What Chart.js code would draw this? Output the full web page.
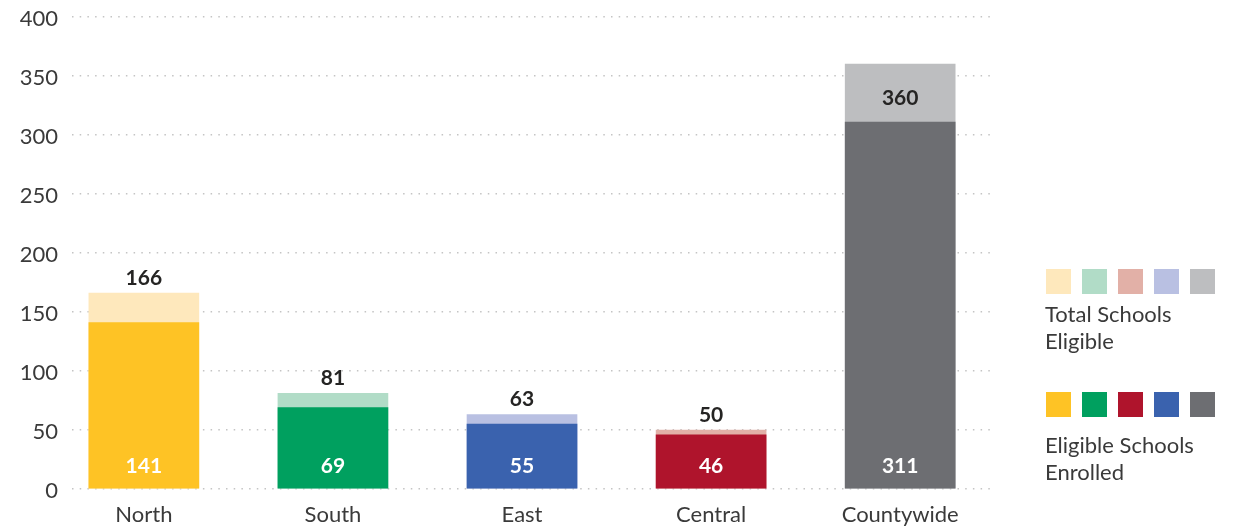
<!DOCTYPE html>
<html>
<head>
<meta charset="utf-8">
<script src="https://cdn.jsdelivr.net/npm/chart.js@4.4.1/dist/chart.umd.min.js"></script>
<style>
  html, body { margin: 0; padding: 0; background: #ffffff; }
  #wrap { position: absolute; left: 0; top: 0; width: 1237px; height: 526px; }
  .legend-row { position: absolute; left: 1046px; display: flex; gap: 11px; }
  .sw { width: 25px; height: 25px; }
  .legend-text { position: absolute; left: 1045px; font-family: Lato, sans-serif; font-size: 22px; line-height: 27px; color: #3a3a3a; }
</style>
</head>
<body>
<div id="wrap"><canvas id="c"></canvas></div>
<div class="legend-row" id="rowTotal" style="top:269px"></div>
<div class="legend-text" id="txtTotal" style="top:300px"></div>
<div class="legend-row" id="rowEnrolled" style="top:392px"></div>
<div class="legend-text" id="txtEnrolled" style="top:431px"></div>
<script>
const categories = ["North", "South", "East", "Central", "Countywide"];
const totalEligible = [166, 81, 63, 50, 360];
const enrolled = [141, 69, 55, 46, 311];
const yTicks = [0, 50, 100, 150, 200, 250, 300, 350, 400];
// bar colours, one per category
const barLightColors = ["#FEE8BC", "#B1DCC7", "#B9C0E2", "#E2B0A7", "#BDBEC0"];
const barDarkColors = ["#FEC325", "#00A05F", "#3A62AE", "#AF142C", "#6D6E72"];
// legend swatch order
const legendLightColors = ["#FEE8BC", "#B1DCC7", "#E2B0A7", "#B9C0E2", "#BDBEC0"];
const legendDarkColors = ["#FEC325", "#00A05F", "#AF142C", "#3A62AE", "#6D6E72"];
const legendLabels = ["Total Schools\nEligible", "Eligible Schools\nEnrolled"];

function fillRow(id, colors) {
  const row = document.getElementById(id);
  colors.forEach(c => { const d = document.createElement('div'); d.className = 'sw'; d.style.background = c; row.appendChild(d); });
}
fillRow('rowTotal', legendLightColors);
fillRow('rowEnrolled', legendDarkColors);
document.getElementById('txtTotal').innerHTML = legendLabels[0].replace('\n', '<br>');
document.getElementById('txtEnrolled').innerHTML = legendLabels[1].replace('\n', '<br>');

const labelPlugin = {
  id: 'barLabels',
  afterDatasetsDraw(chart) {
    const ctx = chart.ctx;
    const yScale = chart.scales.y;
    const area = chart.chartArea;
    const base = yScale.getPixelForValue(0);
    ctx.save();
    ctx.textAlign = 'center';
    ctx.textBaseline = 'middle';
    ctx.font = 'bold 21px Lato, sans-serif';
    chart.getDatasetMeta(0).data.forEach((bar, i) => {
      ctx.fillStyle = '#ffffff';
      ctx.fillText(String(enrolled[i]), bar.x, base - 23);
    });
    chart.getDatasetMeta(1).data.forEach((bar, i) => {
      ctx.fillStyle = '#252423';
      let y = bar.y - 15;
      if (bar.y < area.top + 60) y = bar.y + 34;
      ctx.fillText(String(totalEligible[i]), bar.x, y);
    });
    ctx.restore();
  }
};

new Chart(document.getElementById('c'), {
  type: 'bar',
  data: {
    datasets: [
      {
        label: 'Eligible Schools Enrolled',
        data: enrolled.map((v, i) => ({ x: i, y: v })),
        backgroundColor: barDarkColors,
        barThickness: 110,
        grouped: false,
        borderWidth: 0
      },
      {
        label: 'Total Schools Eligible',
        data: totalEligible.map((v, i) => ({ x: i, y: v })),
        backgroundColor: barLightColors,
        barThickness: 110,
        grouped: false,
        borderWidth: 0
      }
    ]
  },
  options: {
    responsive: true,
    maintainAspectRatio: false,
    animation: false,
    layout: { padding: { left: 0, right: 247, top: 17, bottom: 0 } },
    plugins: { legend: { display: false }, tooltip: { enabled: false } },
    scales: {
      x: {
        type: 'linear',
        offset: false,
        min: -0.38,
        max: 4.475,
        afterBuildTicks: (s) => { s.ticks = categories.map((_, i) => ({ value: i })); },
        afterFit: (s) => { s.height = 37; s.paddingLeft = 0; s.paddingRight = 0; },
        grid: { display: false, drawTicks: false },
        border: { display: false },
        ticks: {
          padding: 13,
          color: '#3a3a3a',
          font: { family: 'Lato, sans-serif', size: 22 },
          callback: (v) => categories[v] ?? ''
        }
      },
      y: {
        min: 0,
        max: 400,
        afterBuildTicks: (s) => { s.ticks = yTicks.map(v => ({ value: v })); },
        afterFit: (s) => { s.width = 72; s.paddingTop = 0; s.paddingBottom = 0; },
        grid: { color: '#c4c4c4', lineWidth: 1.5, drawTicks: false },
        border: { display: false, dash: [1.5, 6.2] },
        ticks: {
          padding: 14,
          labelOffset: 2,
          color: '#3a3a3a',
          font: { family: 'Lato, sans-serif', size: 22 }
        }
      }
    }
  },
  plugins: [labelPlugin]
});
</script>
</body>
</html>
